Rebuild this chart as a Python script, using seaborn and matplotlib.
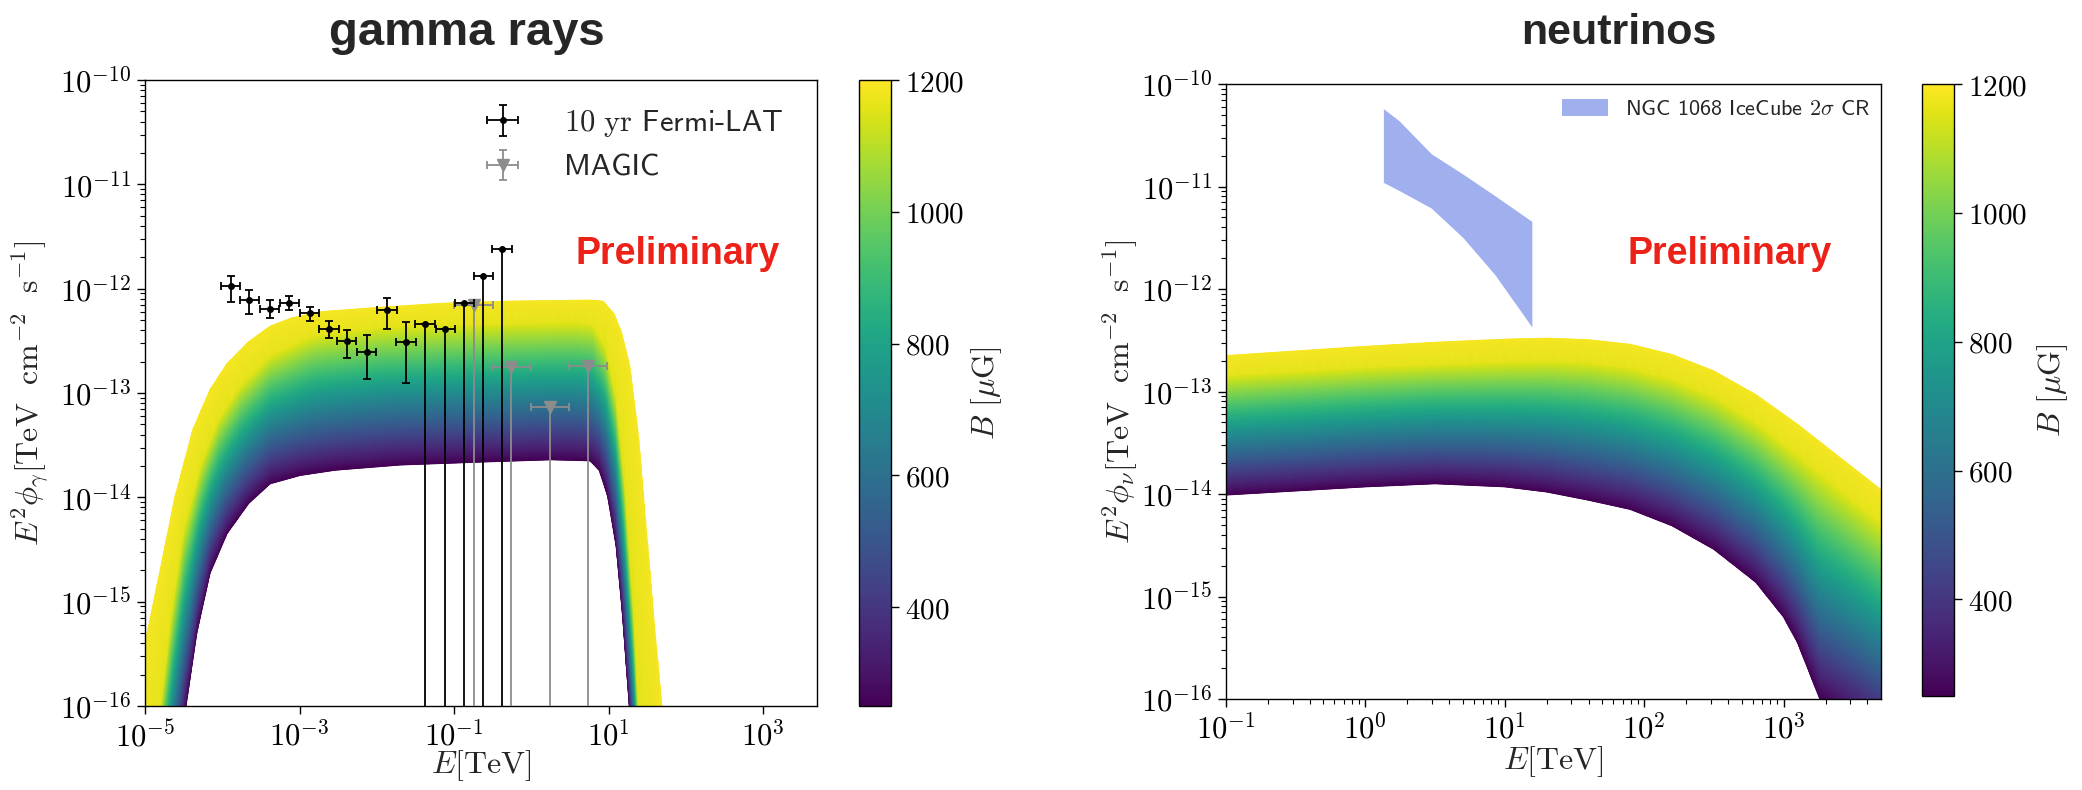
import numpy as np
import matplotlib
matplotlib.use("Agg")
import matplotlib.pyplot as plt
import matplotlib.ticker as mticker
from matplotlib.colors import Normalize
from matplotlib.cm import ScalarMappable
import seaborn as sns

# ---------------- data ----------------
# magnetic-field colour scale [muG]
B_MIN, B_MAX = 250, 1200
B_NEXT = 1150
cbar_ticks = [400, 600, 800, 1000, 1200]

# gamma-ray model envelopes  (log10 E/TeV , log10 E^2 phi)
gam_top_logE = [-5.0, -4.83, -4.61, -4.38, -4.16, -3.94, -3.66, -3.38, -3.10, -2.71, -1.98,
                -1.14, -0.30, 0.76, 0.93, 1.07, 1.16, 1.27, 1.38, 1.49, 1.60, 1.69, 2.0, 3.8]
gam_top_logF = [-15.40, -14.79, -13.99, -13.35, -12.97, -12.72, -12.51, -12.36, -12.28, -12.22, -12.18,
                -12.14, -12.12, -12.11, -12.12, -12.24, -12.40, -12.72, -13.35, -14.31, -15.27, -16.0, -17.5, -29.5]
gam_next_logE = [-5.0, -4.80, -4.66, -4.50, -4.27, -4.05, -3.77, -3.38, -2.82, -1.98, -0.86,
                 0.54, 0.79, 0.96, 1.10, 1.21, 1.33, 1.39, 1.7, 3.8]
gam_next_logF = [-16.7, -16.0, -15.11, -14.31, -13.67, -13.26, -12.94, -12.65, -12.46, -12.38, -12.35,
                 -12.33, -12.35, -12.56, -13.04, -13.83, -15.11, -16.0, -18.0, -30.0]
gam_bot_logE = [-5.0, -4.7, -4.47, -4.33, -4.16, -3.94, -3.66, -3.38, -2.99, -2.54, -1.70,
                -0.58, 0.26, 0.76, 0.88, 0.99, 1.10, 1.18, 1.27, 1.5, 3.8]
gam_bot_logF = [-18.7, -17.2, -16.0, -15.30, -14.73, -14.35, -14.06, -13.87, -13.79, -13.74, -13.69,
                -13.66, -13.64, -13.65, -13.74, -13.99, -14.47, -15.11, -16.0, -18.5, -31.0]

# neutrino model envelopes
nu_top_logE = [-1.0, -0.5, 0.0, 0.5, 1.0, 1.3, 1.6, 1.9, 2.2, 2.5, 2.8, 3.1, 3.4, 3.7]
nu_top_logF = [-12.65, -12.605, -12.56, -12.52, -12.49, -12.48, -12.495, -12.54, -12.64, -12.80,
               -13.03, -13.32, -13.64, -13.96]
nu_next_logF = [-12.85, -12.81, -12.77, -12.74, -12.72, -12.71, -12.725, -12.78, -12.89, -13.06,
                -13.31, -13.63, -13.97, -14.30]
nu_bot_logE = [-1.0, -0.5, 0.0, 0.5, 1.0, 1.3, 1.6, 1.9, 2.2, 2.5, 2.8, 3.0, 3.1, 3.26, 3.7]
nu_bot_logF = [-14.01, -13.97, -13.93, -13.90, -13.93, -13.98, -14.06, -14.15, -14.31, -14.54,
               -14.86, -15.2, -15.45, -16.0, -16.4]

# Fermi-LAT 10 yr  (E [TeV], E^2 phi, lower / upper bounds)
fermi_E = [1.28e-4, 2.25e-4, 4.1e-4, 7.4e-4, 1.35e-3, 2.4e-3, 4.1e-3, 7.4e-3,
           1.36e-2, 2.4e-2, 4.2e-2, 7.7e-2, 1.36e-1, 2.4e-1, 4.2e-1]
fermi_F = [1.05e-12, 7.8e-13, 6.4e-13, 7.3e-13, 5.8e-13, 4.15e-13, 3.15e-13, 2.46e-13,
           6.2e-13, 3.1e-13, 4.6e-13, 4.15e-13, 7.3e-13, 1.31e-12, 2.38e-12]
fermi_F_lo = [7.45e-13, 5.77e-13, 5.2e-13, 6.2e-13, 4.94e-13, 3.35e-13, 2.17e-13, 1.36e-13,
              4.11e-13, 1.26e-13, 1e-20, 1e-20, 1e-20, 1e-20, 1e-20]
fermi_F_hi = [1.31e-12, 9.7e-13, 7.76e-13, 8.5e-13, 6.73e-13, 4.94e-13, 4.03e-13, 3.56e-13,
              8.1e-13, 4.84e-13, 4.6e-13, 4.15e-13, 7.3e-13, 1.31e-12, 2.38e-12]
fermi_halfbin_dex = [0.125] * 15

# MAGIC
magic_E = [0.18, 0.55, 1.75, 5.45]
magic_F = [6.9e-13, 1.77e-13, 7.3e-14, 1.83e-13]
magic_F_lo = [1e-20, 1e-20, 1e-20, 1e-20]
magic_halfbin_dex = [0.25, 0.25, 0.25, 0.25]

# IceCube NGC 1068 2 sigma contour
ic_logE = [0.129, 0.243, 0.472, 0.701, 0.929, 1.194]
ic_hi_logF = [-10.24, -10.36, -10.68, -10.88, -11.09, -11.34]
ic_lo_logF = [-10.96, -11.04, -11.21, -11.50, -11.86, -12.37]

titles = ["gamma rays", "neutrinos"]

# ---------------- style ----------------
sns.set_theme(style="ticks")
plt.rcParams.update({
    "font.family": ["DejaVu Sans"],
    "mathtext.fontset": "cm",
    "axes.edgecolor": "black",
    "axes.linewidth": 1.0,
    "xtick.color": "black", "ytick.color": "black",
    "axes.unicode_minus": True,
})

norm = Normalize(B_MIN, B_MAX)
cmap = plt.get_cmap("viridis")

fig = plt.figure(figsize=(20.82, 7.90), dpi=100)
W, H = 2082.0, 790.0


def add_ax(x0, x1, y0, y1):
    return fig.add_axes([x0 / W, 1 - y1 / H, (x1 - x0) / W, (y1 - y0) / H])


axL = add_ax(145, 817, 80, 706)
caxL = add_ax(859, 891, 80, 706)
axR = add_ax(1226, 1881, 84, 699)
caxR = add_ax(1922, 1954, 84, 696)


def draw_band(ax, lo, hi, bot, inner, b_inner, top=None, n=70):
    grid = np.linspace(lo, hi, 600)
    gb = np.interp(grid, *bot)
    gi = np.interp(grid, *inner)
    s = np.linspace(0, 1, n)[:, None]
    rows = gb[None, :] + s * (gi - gb)[None, :]
    cvals = B_MIN + s[:, 0] * (b_inner - B_MIN)
    if top is not None:
        gt = np.interp(grid, *top)
        rows = np.vstack([rows, gt[None, :]])
        cvals = np.append(cvals, B_MAX)
    X = np.tile(10 ** grid, (rows.shape[0], 1))
    Y = 10 ** rows
    C = np.tile(cvals[:, None], (1, grid.size))
    ax.pcolormesh(X, Y, C, shading="gouraud", cmap=cmap, norm=norm, zorder=1, rasterized=True)


def log_fmt(v, pos):
    e = int(np.round(np.log10(v)))
    return r"$10^{%d}$" % e


def decade_ticks(lo, hi, step=1):
    return [10.0 ** k for k in range(lo, hi + 1, step)]


def minor_ticks(lo, hi, vmin, vmax):
    out = []
    for k in range(lo, hi + 1):
        for m in range(2, 10):
            v = m * 10.0 ** k
            if vmin < v < vmax:
                out.append(v)
    return out


TICK_FS = 22
for ax in (axL, axR):
    ax.set_xscale("log")
    ax.set_yscale("log")
    ax.set_ylim(1e-16, 1e-10)
    ax.yaxis.set_major_locator(mticker.FixedLocator(decade_ticks(-16, -10)))
    ax.yaxis.set_minor_locator(mticker.FixedLocator(minor_ticks(-16, -11, 1e-16, 1e-10)))
    ax.yaxis.set_major_formatter(mticker.FuncFormatter(log_fmt))
    ax.yaxis.set_minor_formatter(mticker.NullFormatter())
    ax.tick_params(which="major", length=6, width=1.0, labelsize=TICK_FS, pad=4, direction="out")
    ax.tick_params(which="minor", length=3.5, width=0.8, direction="out")
    ax.xaxis.set_major_formatter(mticker.FuncFormatter(log_fmt))
    ax.xaxis.set_minor_formatter(mticker.NullFormatter())
    for sp in ax.spines.values():
        sp.set_visible(True)
        sp.set_color("black")
        sp.set_linewidth(1.0)

# ---- left: gamma rays ----
axL.set_xlim(1e-5, 5e3)
axL.xaxis.set_major_locator(mticker.FixedLocator(decade_ticks(-5, 3, 2)))
axL.xaxis.set_minor_locator(mticker.NullLocator())
draw_band(axL, -5.0, np.log10(5e3), (gam_bot_logE, gam_bot_logF), (gam_next_logE, gam_next_logF),
          B_NEXT, top=(gam_top_logE, gam_top_logF))

fE = np.array(fermi_E)
fF = np.array(fermi_F)
fdx = np.array(fermi_halfbin_dex)
axL.errorbar(fE, fF,
             xerr=[fE - fE * 10 ** (-fdx), fE * 10 ** fdx - fE],
             yerr=[fF - np.array(fermi_F_lo), np.array(fermi_F_hi) - fF],
             fmt="o", color="black", ms=4, elinewidth=1.3, capsize=3, capthick=1.3,
             zorder=4, label=r"$\mathrm{10\ yr}$ Fermi-LAT")
mE = np.array(magic_E)
mF = np.array(magic_F)
mdx = np.array(magic_halfbin_dex)
axL.errorbar(mE, mF,
             xerr=[mE - mE * 10 ** (-mdx), mE * 10 ** mdx - mE],
             yerr=[mF - np.array(magic_F_lo), np.zeros_like(mF)],
             fmt="v", color="0.55", ms=8, elinewidth=1.3, capsize=3, capthick=1.3,
             zorder=3, label="MAGIC")
axL.legend(loc="upper left", bbox_to_anchor=(0.4866, 0.955), frameon=False,
           prop={"family": ["cmss10", "DejaVu Sans"], "size": 22},
           handlelength=2.0, handletextpad=1.0, labelspacing=0.5, borderaxespad=0, borderpad=0,
           numpoints=1)
axL.set_ylabel(r"$E^2\phi_\gamma[\mathrm{TeV\ \ cm^{-2}\ \ s^{-1}}]$", fontsize=23)
axL.yaxis.set_label_coords(-0.138, 0.5)
axL.set_xlabel(r"$E[\mathrm{TeV}]$", fontsize=23)
axL.xaxis.set_label_coords(0.5, -0.067)

# ---- right: neutrinos ----
axR.set_xlim(1e-1, 5e3)
axR.xaxis.set_major_locator(mticker.FixedLocator(decade_ticks(-1, 3)))
axR.xaxis.set_minor_locator(mticker.FixedLocator(minor_ticks(-1, 3, 1e-1, 5e3)))
draw_band(axR, -1.0, np.log10(5e3), (nu_bot_logE, nu_bot_logF), (nu_top_logE, nu_next_logF),
          B_NEXT, top=(nu_top_logE, nu_top_logF))
icE = 10 ** np.array(ic_logE)
axR.fill_between(icE, 10 ** np.array(ic_lo_logF), 10 ** np.array(ic_hi_logF),
                 color="#a0b0ef", lw=0, zorder=2, label=r"NGC 1068 IceCube $2\sigma$ CR")
axR.legend(loc="upper left", bbox_to_anchor=(0.513, 0.9756), frameon=False,
           prop={"family": ["cmss10", "DejaVu Sans"], "size": 16},
           handlelength=2.07, handleheight=0.81, handletextpad=0.77, borderaxespad=0, borderpad=0)
axR.set_ylabel(r"$E^2\phi_\nu[\mathrm{TeV\ \ cm^{-2}\ \ s^{-1}}]$", fontsize=23)
axR.yaxis.set_label_coords(-0.131, 0.5)
axR.set_xlabel(r"$E[\mathrm{TeV}]$", fontsize=23)
axR.xaxis.set_label_coords(0.5, -0.073)

# ---- colorbars ----
for cax in (caxL, caxR):
    cb = fig.colorbar(ScalarMappable(norm=norm, cmap=cmap), cax=cax)
    cb.set_ticks(cbar_ticks)
    cb.ax.yaxis.set_major_formatter(mticker.FuncFormatter(lambda v, p: r"$%d$" % v))
    cb.ax.minorticks_off()
    cb.outline.set_linewidth(1.0)
    cb.outline.set_edgecolor("black")
    cax.tick_params(length=6, width=1.0, labelsize=21, pad=4, color="black")
    cax.set_ylabel(r"$B\ [\mu\mathrm{G}]$", fontsize=23, rotation=90)
caxL.yaxis.set_label_coords(3.44, 0.5)
caxR.yaxis.set_label_coords(3.54, 0.5)

# ---- titles and marks ----
fig.text(467 / W, 1 - 33 / H, titles[0], ha="center", va="center", fontsize=34,
         fontweight="bold", family="Liberation Sans")
fig.text(1619 / W, 1 - 33 / H, titles[1], ha="center", va="center", fontsize=31,
         fontweight="bold", family="Liberation Sans")
for x0 in (575, 1628):
    fig.text(x0 / W, 1 - 264 / H, "Preliminary", ha="left", va="baseline", fontsize=27,
             fontweight="bold", family="Liberation Sans", color="#ec2118")

fig.savefig("out.png", dpi=100)
